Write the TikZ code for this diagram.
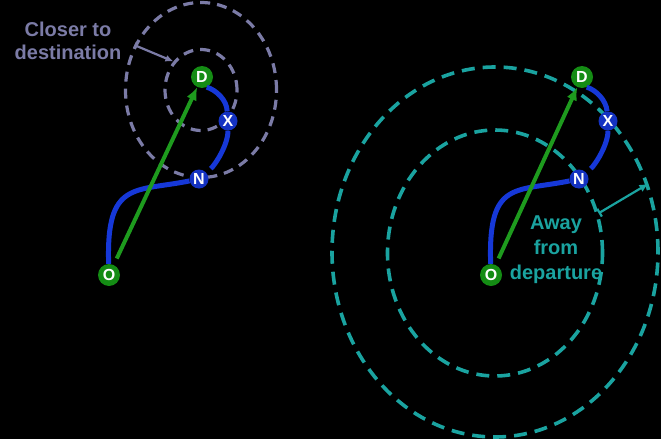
\documentclass[tikz,border=0pt]{standalone}
\usepackage{fontspec}
\setmainfont{Liberation Sans}
\usetikzlibrary{positioning,shapes.geometric,arrows.meta}

\definecolor{grigio}{HTML}{7B7BA6}
\definecolor{ottanio}{HTML}{1AA3A0}
\definecolor{verde}{HTML}{148C14}
\definecolor{freccia}{HTML}{1E9B1E}
\definecolor{blu}{HTML}{1638D8}

\begin{document}
\begin{tikzpicture}[x=1pt, y=-1pt,
    punto/.style={circle, inner sep=0pt, font=\fontsize{16}{16}\selectfont\bfseries, text=white},
    estremo/.style={punto, fill=verde, minimum size=22pt},
    tappa/.style={punto, fill=blu!90!black, minimum size=19pt},
    anello/.style={ellipse, inner sep=0pt, draw, line width=3.2pt},
    percorso/.style={draw=blu, line width=5pt},
    diretto/.style={draw=freccia, line width=4pt, -{Latex[length=13pt,width=11pt]}}]
    % sfondo
    \fill[black] (0,0) rectangle (661,439);
    \useasboundingbox (0,0) rectangle (661,439);

    % definisci gli anelli
    \node (outL) [anello, draw=grigio, dash pattern=on 10pt off 7pt, minimum width=151pt, minimum height=175pt] at (201,90) {};
    \node (inL) [anello, draw=grigio, dash pattern=on 10pt off 7pt, minimum width=72pt, minimum height=81pt] at (201,90) {};
    \node (outR) [anello, draw=ottanio, line width=3.6pt, dash pattern=on 13pt off 8pt, minimum width=326pt, minimum height=370pt] at (495,252) {};
    \node (inR) [anello, draw=ottanio, line width=3.6pt, dash pattern=on 13pt off 8pt, minimum width=215pt, minimum height=246pt] at (495,253) {};

    % testi
    \node (closer) [text=grigio, font=\fontsize{20}{23}\selectfont\bfseries, align=center] at (68,41) {Closer to\\destination};
    \node (away) [text=ottanio, font=\fontsize{20}{25}\selectfont\bfseries, align=center] at (556,250) {Away\\from\\departure};

    % definisci i nodi
    \node (OL) [estremo] at (109,275) {O};
    \node (DL) [estremo] at (202,77) {D};
    \node (NL) [tappa] at (199,179) {N};
    \node (XL) [tappa] at (228,121) {X};
    \node (OR) [estremo] at (491,275) {O};
    \node (DR) [estremo] at (582,77) {D};
    \node (NR) [tappa] at (579,179) {N};
    \node (XR) [tappa] at (608,121) {X};

    % definisci i collegamenti
    \draw [percorso, shorten <=6pt] (OL) .. controls (106,180) and (135,192) .. (NL)
        .. controls (215,165) and (228,145) .. (XL);
    \draw [percorso] (XL.95) .. controls (227,100) and (216,90) .. (DL.-65);
    \draw [percorso, shorten <=6pt] (OR) .. controls (488,180) and (515,192) .. (NR)
        .. controls (595,165) and (608,145) .. (XR);
    \draw [percorso] (XR.95) .. controls (606,100) and (596,90) .. (DR.-65);
    \draw [diretto, shorten <=7pt] (OL) -- (DL);
    \draw [diretto, shorten <=7pt] (OR) -- (DR);
    \draw [grigio, line width=2.2pt, {Bar[width=7pt]}-{Latex[length=8pt,width=7pt]}] (outL.146) -- (inL.134);
    \draw [ottanio, line width=2.2pt, {Bar[width=9pt]}-{Latex[length=9pt,width=8pt]}] (inR.21) -- (outR.24);
\end{tikzpicture}
\end{document}
